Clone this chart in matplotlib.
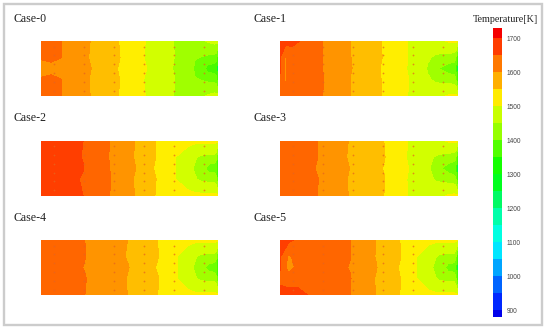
"""
Temperature contours for six cases with a shared colour bar
"""

import matplotlib
matplotlib.use('Agg')
import matplotlib.pyplot as plt
from matplotlib.colors import ListedColormap, BoundaryNorm
from matplotlib.patches import Rectangle
import numpy as np

W, H = 550, 330

# Colour bar
bar_levels = [880, 900, 950, 1000, 1050, 1100, 1150, 1200, 1250, 1300, 1350,
              1400, 1450, 1500, 1550, 1600, 1650, 1700, 1730]
bar_colors = [(0, 0, 235), (0, 40, 255), (0, 100, 255), (0, 165, 255),
              (0, 230, 255), (0, 255, 225), (0, 255, 170), (0, 250, 100),
              (0, 255, 30), (20, 255, 0), (80, 255, 0), (150, 255, 0),
              (200, 255, 0), (255, 235, 0), (255, 175, 0), (255, 120, 0),
              (255, 60, 0), (245, 0, 0)]
bar_ticks = [900, 1000, 1100, 1200, 1300, 1400, 1500, 1600, 1700]

# Contour bands of the panels
panel_levels = [1250, 1300, 1350, 1400, 1450, 1500, 1550, 1600, 1650, 1700, 1750]
panel_colors = [(0, 250, 60), (70, 250, 0), (110, 255, 0), (160, 255, 0),
                (210, 255, 0), (255, 238, 0), (255, 190, 0), (255, 148, 0),
                (255, 102, 0), (255, 62, 0)]

# Transverse stations (0 = bottom, 1 = top)
rows = [0, 0.3, 0.5, 0.7, 1]

case0_x = [0, .06, .12, .28, .44, .59, .75, .85, .87, .92, .94, .98, .99, 1]
case0_t = [[1680, 1680, 1650, 1600, 1550, 1500, 1450, 1430, 1430, 1445, 1455, 1465, 1465, 1465],
           [1660, 1665, 1650, 1598, 1552, 1497, 1452, 1425, 1405, 1395, 1390, 1385, 1375, 1295],
           [1605, 1630, 1640, 1602, 1548, 1503, 1448, 1420, 1385, 1365, 1330, 1320, 1310, 1270],
           [1660, 1665, 1650, 1597, 1553, 1498, 1451, 1425, 1405, 1395, 1390, 1385, 1375, 1295],
           [1680, 1680, 1650, 1600, 1550, 1500, 1450, 1430, 1430, 1445, 1455, 1465, 1465, 1465]]

case1_x = [0, .03, .07, .24, .40, .57, .72, .81, .83, .87, .90, .95, .98, .99, 1]
case1_t = [[1690, 1670, 1675, 1650, 1600, 1550, 1500, 1480, 1478, 1480, 1490, 1505, 1510, 1510, 1510],
           [1695, 1645, 1670, 1652, 1598, 1550, 1502, 1465, 1455, 1445, 1438, 1432, 1425, 1412, 1295],
           [1705, 1645, 1668, 1650, 1602, 1548, 1498, 1462, 1447, 1425, 1398, 1372, 1370, 1350, 1270],
           [1705, 1645, 1670, 1650, 1600, 1552, 1500, 1465, 1455, 1445, 1438, 1432, 1425, 1412, 1295],
           [1725, 1720, 1715, 1650, 1600, 1550, 1500, 1480, 1478, 1480, 1490, 1505, 1510, 1510, 1510]]

case2_x = [0, .24, .39, .53, .645, .76, .83, .85, .87, .90, .93, .95, .98, .99, 1]
case2_t = [[1720, 1700, 1650, 1600, 1550, 1515, 1510, 1510, 1510, 1510, 1510, 1510, 1510, 1510, 1510],
           [1720, 1698, 1652, 1597, 1553, 1500, 1482, 1470, 1455, 1442, 1438, 1435, 1435, 1420, 1295],
           [1720, 1701, 1650, 1603, 1546, 1500, 1470, 1455, 1445, 1425, 1400, 1378, 1375, 1350, 1270],
           [1720, 1699, 1648, 1598, 1552, 1500, 1482, 1470, 1455, 1442, 1438, 1435, 1435, 1420, 1295],
           [1720, 1700, 1650, 1600, 1550, 1515, 1510, 1510, 1510, 1510, 1510, 1510, 1510, 1510, 1510]]

case3_x = [0, .21, .385, .585, .72, .82, .85, .88, .915, .95, .98, .99, 1]
case3_t = [[1695, 1650, 1600, 1550, 1500, 1480, 1480, 1485, 1495, 1505, 1508, 1508, 1508],
           [1695, 1652, 1598, 1552, 1498, 1462, 1455, 1445, 1438, 1432, 1425, 1415, 1295],
           [1695, 1647, 1602, 1548, 1502, 1460, 1448, 1430, 1398, 1375, 1360, 1345, 1270],
           [1695, 1651, 1597, 1553, 1497, 1462, 1455, 1445, 1438, 1432, 1425, 1415, 1295],
           [1695, 1650, 1600, 1550, 1500, 1480, 1480, 1485, 1495, 1505, 1508, 1508, 1508]]

case4_x = [0, .25, .49, .66, .77, .83, .85, .87, .90, .93, .95, .98, .99, 1]
case4_t = [[1690, 1650, 1600, 1550, 1515, 1510, 1510, 1510, 1510, 1510, 1510, 1510, 1510, 1510],
           [1690, 1652, 1598, 1553, 1500, 1482, 1470, 1455, 1442, 1438, 1435, 1435, 1420, 1295],
           [1690, 1648, 1603, 1546, 1500, 1470, 1455, 1445, 1425, 1400, 1378, 1375, 1350, 1270],
           [1690, 1651, 1597, 1552, 1500, 1482, 1470, 1455, 1442, 1438, 1435, 1435, 1420, 1295],
           [1690, 1650, 1600, 1550, 1515, 1510, 1510, 1510, 1510, 1510, 1510, 1510, 1510, 1510]]

case5_x = [0, .05, .10, .18, .395, .54, .675, .77, .83, .85, .87, .90, .93, .95, .98, .99, 1]
case5_t = [[1715, 1715, 1712, 1695, 1650, 1600, 1550, 1515, 1510, 1510, 1510, 1510, 1510, 1510, 1510, 1510, 1510],
           [1690, 1680, 1685, 1680, 1652, 1597, 1552, 1500, 1482, 1470, 1455, 1442, 1438, 1435, 1435, 1420, 1295],
           [1705, 1625, 1665, 1680, 1648, 1603, 1546, 1500, 1470, 1455, 1445, 1425, 1400, 1378, 1375, 1350, 1270],
           [1705, 1640, 1675, 1685, 1651, 1598, 1553, 1500, 1482, 1470, 1455, 1442, 1438, 1435, 1435, 1420, 1295],
           [1725, 1710, 1690, 1690, 1650, 1600, 1550, 1515, 1510, 1510, 1510, 1510, 1510, 1510, 1510, 1510, 1510]]

case_names = ['Case-0', 'Case-1', 'Case-2', 'Case-3', 'Case-4', 'Case-5']
case_xs = [case0_x, case1_x, case2_x, case3_x, case4_x, case5_x]
case_ts = [case0_t, case1_t, case2_t, case3_t, case4_t, case5_t]

# Injection marks
mark_x = [.075, .244, .413, .582, .75, .92]
mark_y = [.10, .26, .42, .58, .74, .90]


def to_cmap(colors):
    return ListedColormap([(r / 255, g / 255, b / 255) for r, g, b in colors])


def add_axes_px(fig, left, top, right, bottom):
    return fig.add_axes([left / W, 1 - bottom / H, (right - left) / W, (bottom - top) / H])


plt.rcParams['font.family'] = ['Liberation Serif', 'DejaVu Serif']
fig = plt.figure(figsize=(W / 100, H / 100), dpi=100, facecolor='white')

# light frame round the figure
fig.add_artist(Rectangle((4 / W, 1 - 325 / H), 538 / W, 321 / H, transform=fig.transFigure,
                         fill=False, edgecolor='#cccccc', linewidth=1.7))

panel_cmap = to_cmap(panel_colors)
panel_norm = BoundaryNorm(panel_levels, panel_cmap.N)
panel_left = [40.5, 280]
panel_right = [218, 457.5]
panel_top = [41, 141, 240]
panel_bottom = [96, 195.5, 295]
label_y = [19, 118, 218]

for i, name in enumerate(case_names):
    col, row = i % 2, i // 2
    ax = add_axes_px(fig, panel_left[col], panel_top[row], panel_right[col], panel_bottom[row])
    ax.contourf(case_xs[i], rows, case_ts[i], levels=panel_levels, cmap=panel_cmap, norm=panel_norm)
    mx, my = np.meshgrid(mark_x, mark_y)
    ax.scatter(mx, my, s=1.6, color='#e8641e', alpha=0.75, linewidths=0)
    ax.set_xlim(0, 1)
    ax.set_ylim(0, 1)
    ax.axis('off')
    fig.text((13 if col == 0 else 253) / W, 1 - label_y[row] / H, name,
             fontsize=8.6, color='#222222', ha='left', va='center')

# colour bar
bar_cmap = to_cmap(bar_colors)
bar_norm = BoundaryNorm(bar_levels, bar_cmap.N)
cax = add_axes_px(fig, 493, 28, 502, 317)
cb = fig.colorbar(plt.cm.ScalarMappable(norm=bar_norm, cmap=bar_cmap), cax=cax,
                  spacing='proportional', ticks=bar_ticks)
cb.minorticks_off()
cb.outline.set_visible(False)
cb.ax.tick_params(which='both', length=0, pad=3.5, labelsize=4.7, labelcolor='#444444')
for t in cb.ax.get_yticklabels():
    t.set_family(['Liberation Sans', 'DejaVu Sans'])
fig.text(505 / W, 1 - 19 / H, 'Temperature[K]', fontsize=7.3, color='#222222', ha='center', va='center')

fig.savefig('out.png', dpi=100)
